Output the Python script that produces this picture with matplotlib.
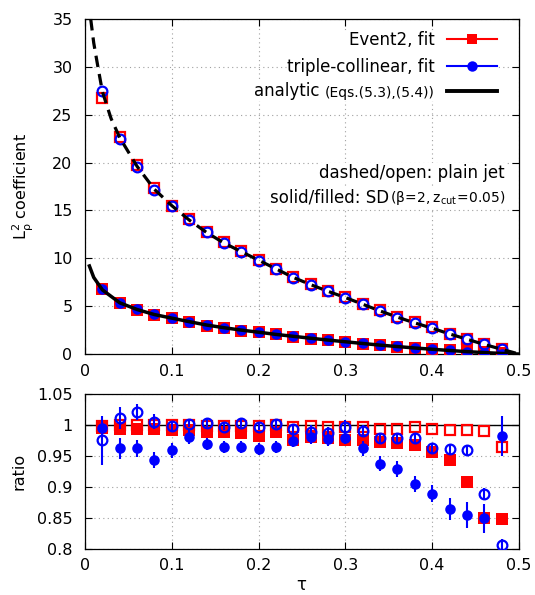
import matplotlib
matplotlib.use('Agg')
import matplotlib.pyplot as plt
from matplotlib.lines import Line2D
from matplotlib.ticker import FormatStrFormatter

# tau bins (bin centres)
tau = [0.02, 0.04, 0.06, 0.08, 0.10, 0.12, 0.14, 0.16, 0.18, 0.20, 0.22, 0.24,
       0.26, 0.28, 0.30, 0.32, 0.34, 0.36, 0.38, 0.40, 0.42, 0.44, 0.46, 0.48]

# L_rho^2 coefficient, plain jet
ev2_plain = [26.8, 22.7, 19.8, 17.3, 15.5, 14.1, 12.8, 11.7, 10.8, 9.8, 8.9, 8.0,
             7.3, 6.6, 5.95, 5.25, 4.55, 3.85, 3.3, 2.8, 2.1, 1.55, 1.05, 0.5]
tc_plain = [27.5, 22.5, 19.5, 17.1, 15.5, 14.0, 12.7, 11.6, 10.7, 9.7, 8.85, 7.97,
            7.24, 6.55, 5.9, 5.19, 4.49, 3.8, 3.27, 2.75, 2.06, 1.53, 1.0, 0.49]
# L_rho^2 coefficient, soft drop
ev2_sd = [6.8, 5.3, 4.6, 4.1, 3.75, 3.3, 2.95, 2.7, 2.45, 2.25, 2.05, 1.8,
          1.6, 1.42, 1.25, 1.08, 0.92, 0.76, 0.62, 0.5, 0.4, 0.3, 0.2, 0.1]
tc_sd = [6.76, 5.36, 4.67, 4.15, 3.8, 3.34, 3.0, 2.75, 2.47, 2.3, 2.06, 1.85,
         1.64, 1.46, 1.29, 1.12, 0.94, 0.8, 0.66, 0.52, 0.39, 0.26, 0.12, 0.02]

# analytic curves
tau_an_plain = [0.0065, 0.01, 0.015, 0.02, 0.03, 0.04, 0.06, 0.08, 0.10, 0.12, 0.14,
                0.16, 0.18, 0.20, 0.22, 0.24, 0.26, 0.28, 0.30, 0.32, 0.34, 0.36,
                0.38, 0.40, 0.42, 0.44, 0.46, 0.48, 0.50]
an_plain = [35.0, 32.5, 29.9, 27.4, 24.6, 22.6, 19.6, 17.2, 15.5, 14.0, 12.7,
            11.6, 10.7, 9.8, 8.9, 8.0, 7.25, 6.55, 5.9, 5.2, 4.5, 3.85,
            3.25, 2.7, 2.1, 1.55, 1.0, 0.5, 0.0]
tau_an_sd = [0.005, 0.01, 0.02, 0.04, 0.06, 0.08, 0.10, 0.12, 0.14, 0.16, 0.18,
             0.20, 0.22, 0.24, 0.26, 0.28, 0.30, 0.32, 0.34, 0.36, 0.38, 0.40,
             0.42, 0.44, 0.46, 0.48, 0.50]
an_sd = [9.2, 8.0, 6.7, 5.35, 4.65, 4.12, 3.75, 3.38, 3.03, 2.75, 2.5,
         2.28, 2.05, 1.85, 1.65, 1.46, 1.28, 1.1, 0.93, 0.78, 0.63, 0.5,
         0.37, 0.25, 0.15, 0.06, 0.0]

# ratio fit / analytic
r_ev2_plain = [0.998, 0.999, 1.0, 0.999, 0.999, 0.999, 0.998, 0.998, 0.998, 0.998, 0.999, 0.997,
               0.998, 0.996, 0.997, 0.997, 0.994, 0.993, 0.996, 0.993, 0.9915, 0.991, 0.990, 0.9645]
r_ev2_sd = [0.995, 0.993, 0.9925, 0.993, 0.992, 0.9916, 0.989, 0.989, 0.986, 0.982, 0.988, 0.976,
            0.980, 0.978, 0.976, 0.976, 0.973, 0.970, 0.967, 0.956, 0.943, 0.908, 0.849, 0.848]
r_tc_plain = [0.975, 1.0115, 1.020, 1.005, 0.998, 1.002, 1.003, 0.997, 1.003, 0.997, 1.001, 0.993,
              0.989, 0.986, 0.997, 0.990, 0.978, 0.978, 0.979, 0.963, 0.961, 0.959, 0.888, 0.806]
r_tc_plain_err = [0.04, 0.018, 0.013, 0.012, 0.008, 0.006, 0.006, 0.006, 0.006, 0.006, 0.006, 0.008,
                  0.01, 0.01, 0.01, 0.01, 0.008, 0.008, 0.008, 0.008, 0.008, 0.008, 0.01, 0.01]
r_tc_sd = [0.995, 0.962, 0.962, 0.943, 0.959, 0.980, 0.969, 0.9645, 0.964, 0.961, 0.964, 0.9737,
           0.981, 0.977, 0.979, 0.962, 0.9375, 0.928, 0.905, 0.889, 0.864, 0.855, 0.849, 0.982]
r_tc_sd_err = [0.01, 0.017, 0.014, 0.013, 0.012, 0.011, 0.01, 0.01, 0.01, 0.01, 0.01, 0.01,
               0.012, 0.012, 0.01, 0.012, 0.012, 0.013, 0.013, 0.014, 0.017, 0.021, 0.023, 0.032]

RED = '#ff0000'
BLUE = '#0000ff'

fig = plt.figure(figsize=(5.35, 5.95), dpi=100)
ax = fig.add_axes([0.159, 0.405, 0.811, 0.563])
axr = fig.add_axes([0.159, 0.078, 0.811, 0.260])

for a in (ax, axr):
    a.tick_params(direction='in', top=True, right=True, length=5, width=0.8,
                  labelsize=11.5, pad=7)
    a.tick_params(axis='y', pad=9)
    a.grid(True, color='#a0a0a0', linestyle=(0, (1, 3)), linewidth=0.8)
    a.set_axisbelow(True)
    for s in a.spines.values():
        s.set_linewidth(0.9)
    a.set_xlim(0, 0.5)
    a.set_xticks([0, 0.1, 0.2, 0.3, 0.4, 0.5])
    a.xaxis.set_major_formatter(FormatStrFormatter('%g'))

# ---- top panel
ax.plot(tau, ev2_plain, 's', ms=7.2, mfc='none', mec=RED, mew=1.6, zorder=3)
ax.plot(tau, ev2_sd, 's', ms=8.2, color=RED, mew=0, zorder=3)
ax.plot(tau, tc_plain, 'o', ms=7.0, mfc='none', mec=BLUE, mew=1.6, zorder=4)
ax.plot(tau, tc_sd, 'o', ms=7.6, color=BLUE, mew=0, zorder=4)
ax.plot(tau_an_plain, an_plain, color='black', lw=2.3, dashes=(3.6, 2.2), zorder=5)
ax.plot(tau_an_sd, an_sd, color='black', lw=2.5, zorder=5)
ax.set_ylim(0, 35)
ax.set_yticks(range(0, 36, 5))
ax.set_ylabel(r'$\mathregular{L_\rho^2}$ coefficient', fontsize=11.5)
ax.yaxis.set_label_coords(-0.114, 0.5)

handles = [
    Line2D([], [], color=RED, lw=1.5, marker='s', ms=7.5, mew=0),
    Line2D([], [], color=BLUE, lw=1.5, marker='o', ms=7.5, mew=0),
    Line2D([], [], color='black', lw=2.8),
]
leg = ax.legend(handles, ['Event2, fit', 'triple-collinear, fit',
                          '(Eqs.(5.3),(5.4))'],
                loc='upper right', bbox_to_anchor=(0.949, 0.965),
                markerfirst=False, handlelength=3.0, handletextpad=0.75,
                labelspacing=0.55, borderpad=0.0, borderaxespad=0.0,
                fontsize=12, frameon=True, facecolor='white',
                edgecolor='white', framealpha=1.0, fancybox=False)
leg.get_texts()[2].set_fontsize(10)
ax.annotate('analytic ', xy=(0, 0), xycoords=leg.get_texts()[2],
            ha='right', va='bottom', fontsize=12, zorder=6,
            bbox=dict(facecolor='white', edgecolor='none', pad=1))

t1 = ax.text(0.968, 0.540, 'dashed/open: plain jet', transform=ax.transAxes,
             ha='right', va='center', fontsize=12, zorder=6,
             bbox=dict(facecolor='white', edgecolor='none', pad=1))
t2 = ax.text(0.968, 0.439, r'$\mathregular{(\beta\!=\!2,z_{cut}\!=\!0.05)}$',
             transform=ax.transAxes, ha='right', va='bottom', fontsize=10,
             zorder=6, bbox=dict(facecolor='white', edgecolor='none', pad=1))
ax.annotate('solid/filled: SD', xy=(0, 0), xycoords=t2, ha='right',
            va='bottom', fontsize=12, zorder=6,
            bbox=dict(facecolor='white', edgecolor='none', pad=1))

# ---- ratio panel
axr.axhline(1.0, color='black', lw=1.0, zorder=2)
axr.plot(tau, r_ev2_sd, 's', ms=8.2, color=RED, mew=0, zorder=3)
axr.plot(tau, r_ev2_plain, 's', ms=7.2, mfc='none', mec=RED, mew=1.6, zorder=3)
axr.errorbar(tau, r_tc_sd, yerr=r_tc_sd_err, fmt='o', ms=7.6, color=BLUE,
             mew=0, elinewidth=1.5, capsize=0, zorder=4)
axr.errorbar(tau, r_tc_plain, yerr=r_tc_plain_err, fmt='o', ms=7.0,
             mfc='none', mec=BLUE, mew=1.6, ecolor=BLUE, elinewidth=1.5,
             capsize=0, zorder=4)
axr.set_ylim(0.8, 1.05)
axr.set_yticks([0.8, 0.85, 0.9, 0.95, 1.0, 1.05])
axr.yaxis.set_major_formatter(FormatStrFormatter('%g'))
axr.set_ylabel('ratio', fontsize=11.5)
axr.yaxis.set_label_coords(-0.135, 0.5)
axr.set_xlabel(r'$\mathregular{\tau}$', fontsize=12, labelpad=2)

fig.savefig('out.png', dpi=100)
